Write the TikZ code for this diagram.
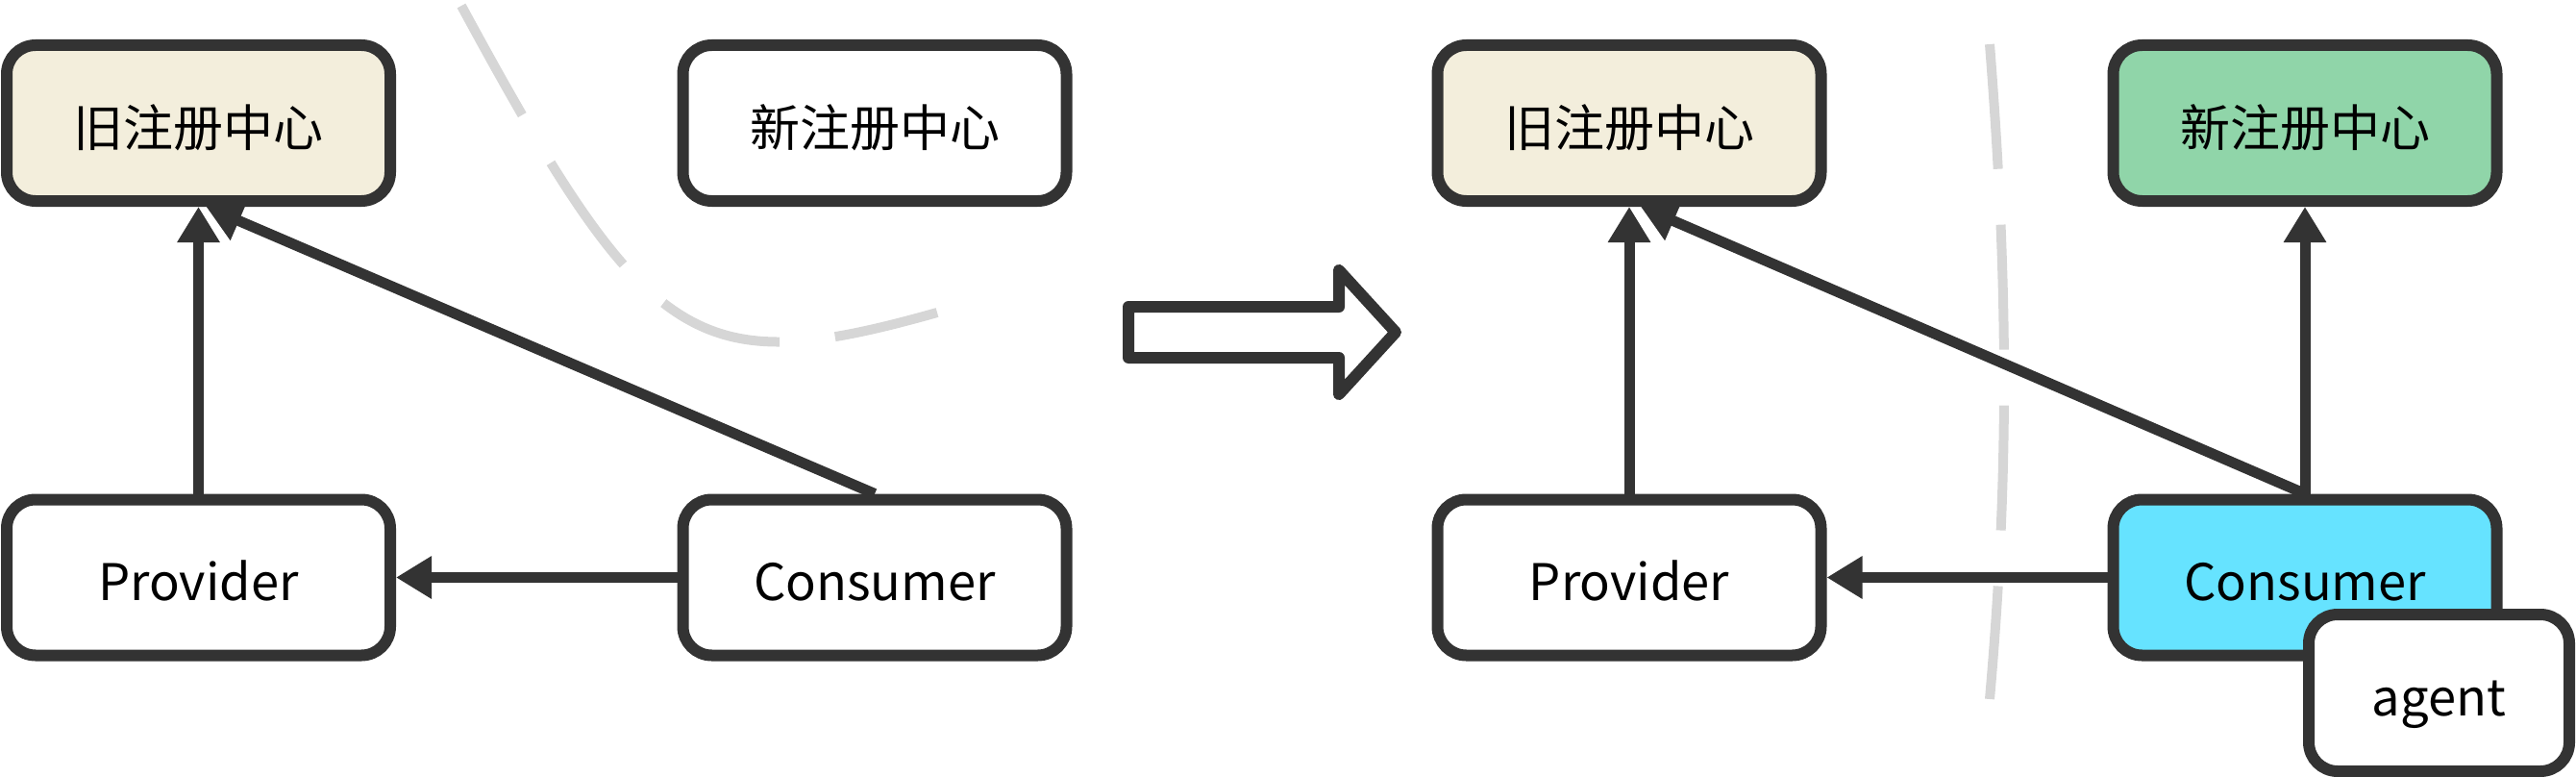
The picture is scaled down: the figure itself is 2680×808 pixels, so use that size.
\documentclass[tikz,border=0pt]{standalone}
\usepackage{fontspec}
\setmainfont{Noto Sans CJK SC}
\usetikzlibrary{arrows.meta}
\definecolor{edge}{HTML}{333333}
\definecolor{oldfill}{HTML}{F3EEDC}
\definecolor{newfill}{HTML}{90D5A9}
\definecolor{consfill}{HTML}{66E3FF}
\definecolor{sepgray}{HTML}{D6D6D6}
\begin{document}
\begin{tikzpicture}[x=1pt,y=-1pt,
  box/.style={draw=edge, fill=white, line width=12pt, rounded corners=30pt,
    minimum width=399pt, minimum height=162pt, inner sep=0pt,
    text height=48pt, text depth=0pt, font=\fontsize{52.5}{60}\selectfont},
  cjk/.style={font=\fontsize{52}{60}\selectfont},
  link/.style={draw=edge, line width=11pt, -{Triangle[length=37pt,width=42pt]}},
  divider/.style={draw=sepgray, line width=10pt, dash pattern=on 130pt off 58pt},
  bigarrow/.style={draw=edge, line width=12pt, line join=round, fill=white}]
\useasboundingbox (0,0) rectangle (2680,808);

% dividers
\draw[divider] (480,6) .. controls (674,364) and (723.6,395.8) .. (975,325);
\draw[divider] (2070,46) .. controls (2090,300) and (2090,500) .. (2070,727);

% left state
\node[box, cjk, fill=oldfill] (oldL) at (206.5,128) {旧注册中心};
\node[box, cjk] (newL) at (910,128) {新注册中心};
\node[box] (provL) at (206.5,600.5) {Provider};
\node[box] (consL) at (910,600.5) {Consumer};

\draw[link] (provL.north) -- (oldL.south);
\draw[link] (consL.north) -- ([xshift=8pt]oldL.south);
\draw[link] (consL.west) -- (provL.east);

% transition arrow
\draw[bigarrow] (1174,319) -- (1393,319) -- (1393,281) -- (1452,345.5)
  -- (1393,410) -- (1393,372) -- (1174,372) -- cycle;

% right state
\node[box, cjk, fill=oldfill] (oldR) at (1695,128) {旧注册中心};
\node[box, cjk, fill=newfill] (newR) at (2398,128) {新注册中心};
\node[box] (provR) at (1695,600.5) {Provider};
\node[box, fill=consfill] (consR) at (2398,600.5) {Consumer};

\draw[link] (provR.north) -- (oldR.south);
\draw[link] (consR.north) -- ([xshift=12pt]oldR.south);
\draw[link] (consR.north) -- (newR.south);
\draw[link] (consR.west) -- (provR.east);

\node[box, minimum width=271pt, minimum height=163pt] (agent) at (2537.5,720.5) {agent};
\end{tikzpicture}
\end{document}
